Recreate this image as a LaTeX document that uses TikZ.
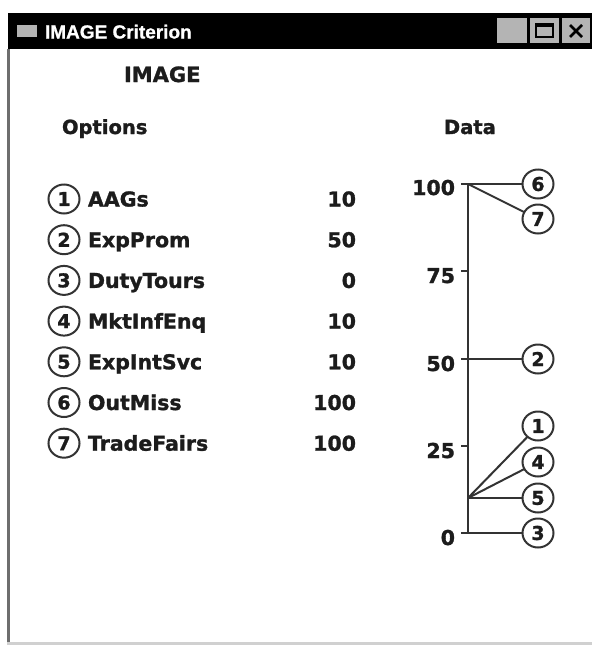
\documentclass[tikz,border=0pt]{standalone}
\usepackage{fontspec}
\setmainfont{DejaVu Sans}[BoldFeatures={FakeBold=1.3}]
\newfontfamily\titlefont{Liberation Sans}[BoldFeatures={FakeBold=1}]
\usetikzlibrary{shapes.geometric}
\definecolor{ink}{HTML}{1C1C1C}
\definecolor{lnc}{HTML}{333333}
\definecolor{btn}{HTML}{B4B4B4}
\definecolor{frame}{HTML}{6E6E6E}
\definecolor{bottomline}{HTML}{D0D0D0}
\begin{document}
\begin{tikzpicture}[x=1pt,y=-1pt,
  every node/.style={inner sep=0pt, outer sep=0pt, text=ink},
  txt/.style={font=\fontsize{20.5}{24}\selectfont\bfseries, anchor=base west},
  val/.style={font=\fontsize{20.5}{24}\selectfont\bfseries, anchor=base east},
  head/.style={font=\fontsize{19.5}{22}\selectfont\bfseries, anchor=base west},
  num/.style={draw=lnc, line width=2pt, ellipse, minimum width=31pt, minimum height=29pt, font=\fontsize{19}{20}\selectfont\bfseries},
  ln/.style={draw=lnc, line width=2pt}]
\useasboundingbox (0,0) rectangle (592,646);
\fill[white] (0,0) rectangle (592,646);
% window frame
\fill[black] (8,13) rectangle (592,49);
\fill[frame] (7,49) rectangle (10,645);
\fill[bottomline] (7,642) rectangle (592,645);
% title bar
\fill[btn] (17,25) rectangle (37,37);
\node[anchor=base west, text=white, font=\titlefont\fontsize{19}{20}\selectfont\bfseries] (title) at (45,38.5) {IMAGE Criterion};
\fill[btn] (497,18) rectangle (527,43);
\fill[btn] (530,18) rectangle (559,43);
\draw[black, line width=1.5pt] (536,24) rectangle (553,37);
\fill[black] (536,23) rectangle (553,27);
\fill[btn] (562,18) rectangle (590,43);
\draw[black, line width=2.5pt] (570,25) -- (582,37) (582,25) -- (570,37);
% headings
\node[head, font=\fontsize{21}{24}\selectfont\bfseries] (hImage) at (124,82) {IMAGE};
\node[head] (hOptions) at (62,134) {Options};
\node[head] (hData) at (444,134) {Data};
% option list
\foreach \i/\name/\v in {1/AAGs/10, 2/ExpProm/50, 3/DutyTours/0, 4/MktInfEnq/10, 5/ExpIntSvc/10, 6/OutMiss/100, 7/TradeFairs/100}{
  \pgfmathsetmacro{\yy}{199+40.7*(\i-1)}
  \node[num] (L\i) at (64,\yy) {\i};
  \node[txt] (N\i) at (88,\yy+7.5) {\name};
  \node[val] (V\i) at (356,\yy+7.5) {\v};
}
% axis
\coordinate (top) at (468,184);
\coordinate (bot) at (468,533);
\coordinate (p10) at (468,498);
\coordinate (t100) at (461,184);
\coordinate (t75) at (461,271);
\coordinate (t50) at (461,359);
\coordinate (t25) at (461,446);
\coordinate (t0) at (461,533);
\coordinate (a75) at (468,271);
\coordinate (a25) at (468,446);
\draw[ln] (top) -- (bot);
\draw[ln] (t75) -- (a75);
\draw[ln] (t25) -- (a25);
\node[val] (l100) at (455,195) {100};
\node[val] (l75) at (455,283) {75};
\node[val] (l50) at (455,371) {50};
\node[val] (l25) at (455,458) {25};
\node[val] (l0) at (455,545) {0};
% data circles
\node[num] (R6) at (538,184) {6};
\node[num] (R7) at (538,219) {7};
\node[num] (R2) at (538,359) {2};
\node[num] (R1) at (538,426) {1};
\node[num] (R4) at (538,462) {4};
\node[num] (R5) at (538,498) {5};
\node[num] (R3) at (538,533) {3};
\draw[ln] (t100) -- (R6.west);
\draw[ln] (top) -- (R7);
\draw[ln] (t50) -- (R2.west);
\draw[ln] (p10) -- (R1);
\draw[ln] (p10) -- (R4);
\draw[ln] (p10) -- (R5.west);
\draw[ln] (t0) -- (R3.west);
\end{tikzpicture}
\end{document}
